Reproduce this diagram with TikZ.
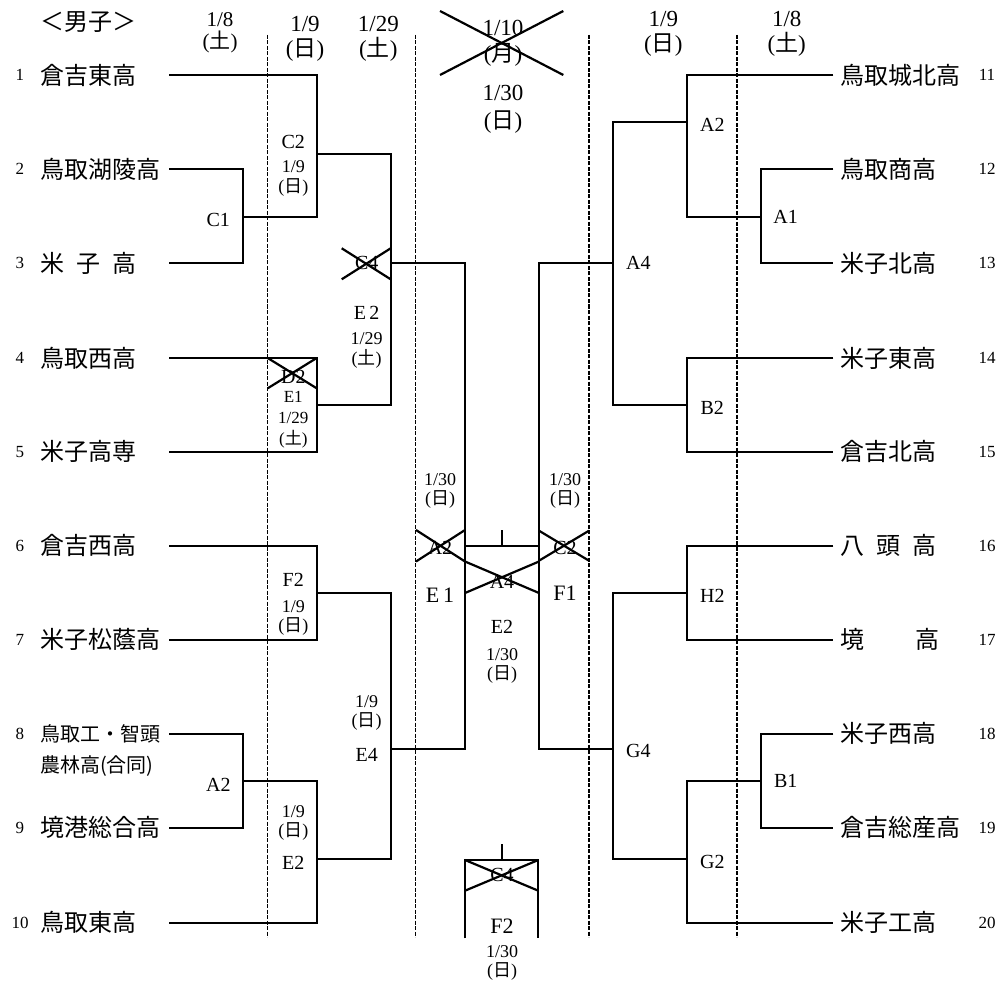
\documentclass[tikz,border=0pt]{standalone}
\usepackage{fontspec}
\setmainfont{Liberation Serif}
\newfontfamily\jp{Noto Sans CJK JP}
\usetikzlibrary{positioning,calc}

\newcommand\youbi[1]{({\jp #1})}

\begin{document}
\begin{tikzpicture}[x=1pt,y=-1pt,
    line/.style={line width=2.2pt},
    sep/.style={line width=1.4pt, dash pattern=on 4pt off 1.5pt},
    team/.style={anchor=west, inner sep=0pt, font=\fontsize{24}{24}\selectfont\jp},
    num/.style={inner sep=0pt, font=\fontsize{17}{17}\selectfont},
    big/.style={inner sep=0pt, align=center, font=\fontsize{23}{25}\selectfont},
    rnd/.style={inner sep=0pt, font=\fontsize{20}{20}\selectfont},
    small/.style={inner sep=0pt, align=center, font=\fontsize{18}{19}\selectfont}]
    \useasboundingbox (0,0) rectangle (1000,981);

    % Day separators
    \foreach \x in {267.7,415.7,589,737}
        \draw[sep] (\x,35) -- (\x,937);

    % Headers
    \node[team] (title) at (40,21.7) {＜男子＞};
    \node[big, font=\fontsize{21}{22}\selectfont] (d1) at (220,32.5) {1/8\\\youbi{土}};
    \node[big] (d2) at (305,39.2) {1/9\\\youbi{日}};
    \node[big] (d3) at (378.3,39.2) {1/29\\\youbi{土}};
    \node[big, font=\fontsize{23}{26.7}\selectfont] (d4) at (503,43.3) {1/10\\\youbi{月}};
    \draw[line] (440,11) -- (563.3,75);
    \draw[line] (440,75) -- (563.3,11);
    \node[big, font=\fontsize{23}{28.3}\selectfont] (d5) at (503,109.2) {1/30\\\youbi{日}};
    \node[big] (d6) at (663.3,34.2) {1/9\\\youbi{日}};
    \node[big] (d7) at (786.7,34.2) {1/8\\\youbi{土}};

    % Left teams
    \foreach \i/\y/\name in {1/75/倉吉東高, 2/169/鳥取湖陵高, 3/263.3/{米\hspace{.5em}子\hspace{.5em}高},
            4/358/鳥取西高, 5/451.7/米子高専, 6/545.7/倉吉西高, 7/639.7/米子松蔭高,
            9/827.7/境港総合高, 10/922.7/鳥取東高} {
        \node[num] (n\i) at (20,\y) {\i};
        \node[team] (t\i) at (40,\y) {\name};
    }
    \node[num] (n8) at (20,733.7) {8};
    \node[team, font=\fontsize{20}{20}\selectfont\jp] (t8) at (40,733.7) {鳥取工・智頭};
    \node[team, font=\fontsize{20}{20}\selectfont\jp] (t8b) at (40,766) {農林高(合同)};
    \foreach \i/\y in {1/75,2/169,3/263.3,4/358,5/451.7,6/545.7,7/639.7,8/733.7,9/827.7,10/922.7}
        \coordinate (a\i) at (169,\y);

    % Right teams
    \foreach \i/\y/\name in {11/75/鳥取城北高, 12/169/鳥取商高, 13/263.3/米子北高,
            14/358/米子東高, 15/451.7/倉吉北高, 16/545.7/{八\hspace{.5em}頭\hspace{.5em}高},
            17/639.7/{境\hspace{2.12em}高}, 18/733.7/米子西高, 19/827.7/倉吉総産高, 20/922.7/米子工高} {
        \node[num] (n\i) at (987,\y) {\i};
        \node[team] (t\i) at (840,\y) {\name};
        \coordinate (b\i) at (833.3,\y);
    }

    % Left bracket
    \draw[line] (a1) -| (316.7,216.7) -- (243.3,216.7);
    \draw[line] (a2) -| (243.3,263.3) -- (a3);
    \draw[line] (316.7,154) -| (390.7,404.7) -- (316.7,404.7);
    \draw[line] (a4) -| (316.7,451.7) -- (a5);
    \draw[line] (390.7,263.3) -| (465,749.3) -- (390.7,749.3);
    \draw[line] (a6) -| (316.7,639.7) -- (a7);
    \draw[line] (316.7,592.7) -| (390.7,859.3) -- (316.7,859.3);
    \draw[line] (a8) -| (243.3,827.7) -- (a9);
    \draw[line] (243.3,780.7) -- (316.7,780.7) |- (a10);

    % Right bracket
    \draw[line] (b11) -| (686.7,216.7) -- (760.7,216.7);
    \draw[line] (b12) -| (760.7,263.3) -- (b13);
    \draw[line] (686.7,122) -| (613.3,404.7) -- (686.7,404.7);
    \draw[line] (b14) -| (686.7,451.7) -- (b15);
    \draw[line] (613.3,263.3) -| (539,749.3) -- (613.3,749.3);
    \draw[line] (b16) -| (686.7,639.7) -- (b17);
    \draw[line] (686.7,592.7) -| (613.3,859.3) -- (686.7,859.3);
    \draw[line] (b18) -| (760.7,827.7) -- (b19);
    \draw[line] (760.7,780.7) -- (686.7,780.7) |- (b20);

    % Final
    \draw[line] (465,545.7) -- (539,545.7);
    \draw[line] (502,530) -- (502,545.7);
    \draw[line] (416,530) -- (465,561.5);
    \draw[line] (416,561.5) -- (465,530);
    \draw[line] (465,561.5) -- (539,593);
    \draw[line] (465,593) -- (539,561.5);
    \draw[line] (539,530.7) -- (589,560.7);
    \draw[line] (539,560.7) -- (589,530.7);

    % Third place
    \draw[line] (465,938.3) -- (465,860) -- (538.3,860) -- (538.3,938.3);
    \draw[line] (502,844) -- (502,860);
    \draw[line] (465,860) -- (538.3,890.7);
    \draw[line] (465,890.7) -- (538.3,860);

    % Struck out games
    \draw[line] (341.7,248.3) -- (390.7,279.3);
    \draw[line] (341.7,279.3) -- (390.7,248.3);
    \draw[line] (267.7,358) -- (316.7,388.3);
    \draw[line] (267.7,388.3) -- (316.7,358);

    % Left game labels
    \node[rnd] (c1) at (218.3,220) {C1};
    \node[rnd] (c2) at (293.3,141.7) {C2};
    \node[small, font=\fontsize{18}{20}\selectfont] (c2d) at (293.3,178.3) {1/9\\\youbi{日}};
    \node[rnd] (c4) at (366.7,263.3) {C4};
    \node[rnd] (e2a) at (366.7,313.3) {E\,2};
    \node[small, font=\fontsize{18}{20}\selectfont] (e2ad) at (366.7,350) {1/29\\\youbi{土}};
    \node[rnd] (dd2) at (293.3,377) {D2};
    \node[small, font=\fontsize{17}{20.8}\selectfont] (e1a) at (293.3,419.5) {E1\\1/29\\\youbi{土}};
    \node[rnd] (f2a) at (293.3,580) {F2};
    \node[small] (f2ad) at (293.3,617.5) {1/9\\\youbi{日}};
    \node[small] (e2bd) at (293.3,822.5) {1/9\\\youbi{日}};
    \node[rnd] (e2b) at (293.3,863.3) {E2};
    \node[rnd] (a2a) at (218.3,785) {A2};
    \node[small] (e4d) at (366.7,712.5) {1/9\\\youbi{日}};
    \node[rnd] (e4) at (366.7,755) {E4};

    % Centre labels
    \node[small] (sld) at (440,490.5) {1/30\\\youbi{日}};
    \node[rnd] (sl) at (440,548) {A2};
    \node[rnd, font=\fontsize{22}{22}\selectfont] (e1c) at (440,595.7) {E\,1};
    \node[rnd] (a4c) at (502,581.7) {A4};
    \node[rnd] (e2c) at (502,626.7) {E2};
    \node[small] (e2cd) at (502,666.2) {1/30\\\youbi{日}};
    \node[small] (srd) at (565,490.5) {1/30\\\youbi{日}};
    \node[rnd] (sr) at (565,548) {C2};
    \node[rnd, font=\fontsize{22}{22}\selectfont] (f1c) at (565,593) {F1};
    \node[rnd] (c4b) at (502,875) {C4};
    \node[rnd, font=\fontsize{22}{22}\selectfont] (f2b) at (502,926.7) {F2};
    \node[small] (f2bd) at (502,962.5) {1/30\\\youbi{日}};

    % Right game labels
    \node[rnd] (a2r) at (712.3,125) {A2};
    \node[rnd] (a1r) at (785.7,216.7) {A1};
    \node[rnd] (a4r) at (638.3,263.3) {A4};
    \node[rnd] (b2r) at (712.3,408) {B2};
    \node[rnd] (h2r) at (712.3,596) {H2};
    \node[rnd] (g4r) at (638.3,751) {G4};
    \node[rnd] (b1r) at (785.7,781) {B1};
    \node[rnd] (g2r) at (712.3,861.7) {G2};
\end{tikzpicture}
\end{document}
